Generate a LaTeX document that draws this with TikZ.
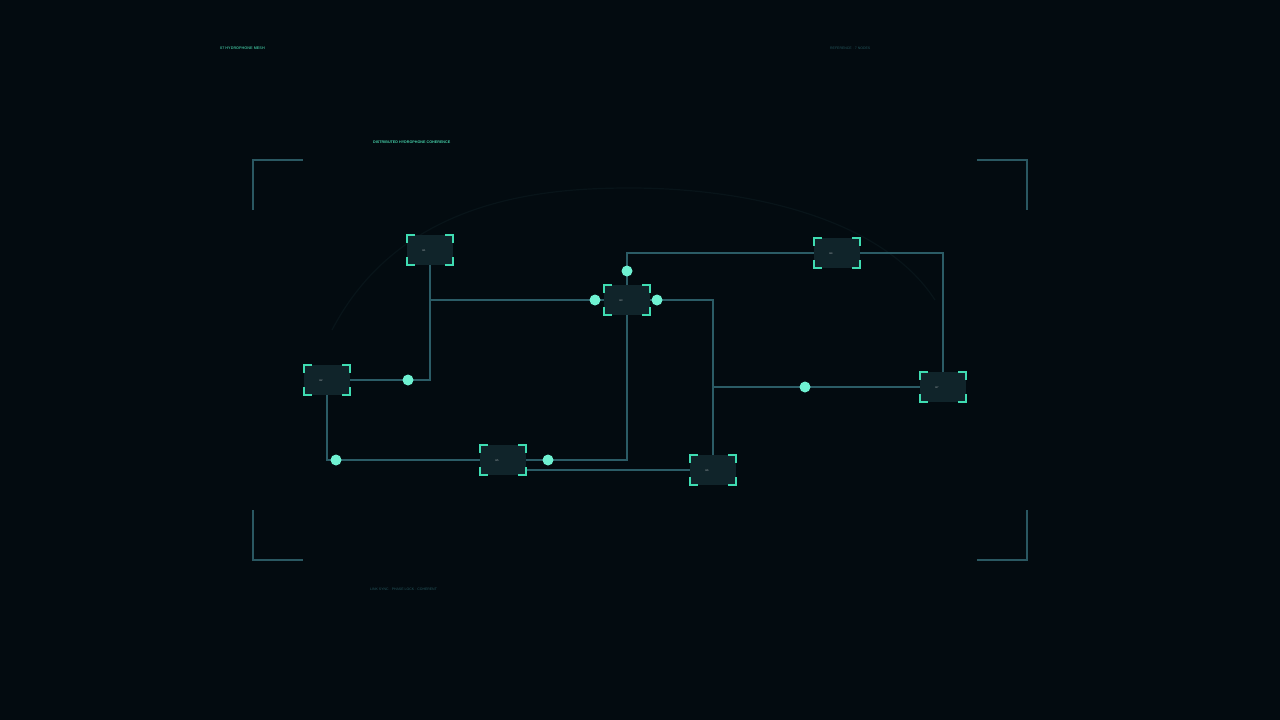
\documentclass[tikz,border=0pt]{standalone}
\usepackage{fontspec}
\setmainfont{Liberation Sans}
\usetikzlibrary{calc}
\definecolor{bg}{HTML}{030B10}
\definecolor{wire}{HTML}{2B5C66}
\definecolor{nfill}{HTML}{10242A}
\definecolor{brk}{HTML}{3FDDB2}
\definecolor{dotc}{HTML}{6FF2D2}
\definecolor{frame}{HTML}{2A5862}
\definecolor{ttl}{HTML}{45CFA8}
\definecolor{dim}{HTML}{24565C}
\definecolor{arcc}{HTML}{081419}
\tikzset{
  x=1pt,y=-1pt,
  hbox/.style={fill=nfill,draw=none,minimum width=46pt,minimum height=30pt,inner sep=0pt,
    text=white!70!nfill,font=\fontsize{3}{3}\selectfont},
  link/.style={draw=wire,line width=1.5pt},
  hdot/.style={circle,fill=dotc,draw=none,minimum size=11pt,inner sep=0pt},
  brkline/.style={draw=brk,line width=1.6pt},
  framel/.style={draw=frame,line width=2pt},
}
\newcommand{\brackets}[1]{%
  \draw[brkline] ($(#1.north west)+(0,8)$) -- (#1.north west) -- ++(8,0);
  \draw[brkline] ($(#1.north east)+(-8,0)$) -- (#1.north east) -- ++(0,8);
  \draw[brkline] ($(#1.south west)+(0,-8)$) -- (#1.south west) -- ++(8,0);
  \draw[brkline] ($(#1.south east)+(-8,0)$) -- (#1.south east) -- ++(0,-8);
}
\begin{document}
\begin{tikzpicture}
\fill[bg] (0,0) rectangle (1280,720);
\useasboundingbox (0,0) rectangle (1280,720);
% faint arc
\draw[arcc,line width=1.2pt] (332,330) .. controls (400,200) and (540,188) .. (630,188) .. controls (740,188) and (880,215) .. (935,300);
% corner frame
\draw[framel] (253,210) -- (253,160) -- (303,160);
\draw[framel] (977,160) -- (1027,160) -- (1027,210);
\draw[framel] (253,510) -- (253,560) -- (303,560);
\draw[framel] (977,560) -- (1027,560) -- (1027,510);
% texts
\node[anchor=west,text=ttl!80!bg,font=\fontsize{3.8}{4}\selectfont\bfseries,inner sep=0pt] (hdr) at (220,48) {07 HYDROPHONE MESH};
\node[anchor=west,text=ttl,font=\fontsize{3.7}{4}\selectfont\bfseries,inner sep=0pt] (title) at (373,142) {DISTRIBUTED HYDROPHONE COHERENCE};
\node[anchor=west,text=dim,font=\fontsize{3.5}{4}\selectfont,inner sep=0pt] (ref) at (830,48) {REFERENCE · 7 NODES};
\node[anchor=west,text=dim,font=\fontsize{3.5}{4}\selectfont,inner sep=0pt] (foot) at (370,589) {LINK SYNC · PHASE LOCK · COHERENT};
% links
\coordinate (A0) at (430,250);
\node[hbox] (A) at (430,250) {};
\node[hbox] (B) at (327,380) {};
\node[hbox] (C) at (627,300) {};
\node[hbox] (D) at (837,253) {};
\node[hbox] (E) at (503,460) {};
\node[hbox] (F) at (713,470) {};
\node[hbox] (G) at (943,387) {};
\draw[link] (A.south) |- (C.west);
\draw[link] (B.east) -| (A.south);
\draw[link] (C.north) |- (D.west);
\draw[link] (C.east) -| (F.north);
\draw[link] (D.east) -| (G.north);
\draw[link] (G.west) -| (F.north);
\draw[link] (B.south) |- (E.west);
\draw[link] (E.east) -| (C.south);
\draw[link] (F.west) -- (F.west -| E.east);
% nodes over links
\foreach \n/\x/\y/\t in {A/430/250/H1,B/327/380/H2,C/627/300/H3,D/837/253/H4,E/503/460/H5,F/713/470/H6,G/943/387/H7}{
  \node[hbox] (\n) at (\x,\y) {};
  \node[text=white!65!nfill,font=\fontsize{2.6}{3}\selectfont,inner sep=0pt] (\n l) at ($(\n.center)+(-6,1)$) {\t};
}
\foreach \n in {A,B,C,D,E,F,G}{\brackets{\n}}
% dots
\node[hdot] (d1) at (408,380) {};
\node[hdot] (d2) at (595,300) {};
\node[hdot] (d3) at (657,300) {};
\node[hdot] (d4) at (627,271) {};
\node[hdot] (d5) at (805,387) {};
\node[hdot] (d6) at (336,460) {};
\node[hdot] (d7) at (548,460) {};
\end{tikzpicture}
\end{document}
